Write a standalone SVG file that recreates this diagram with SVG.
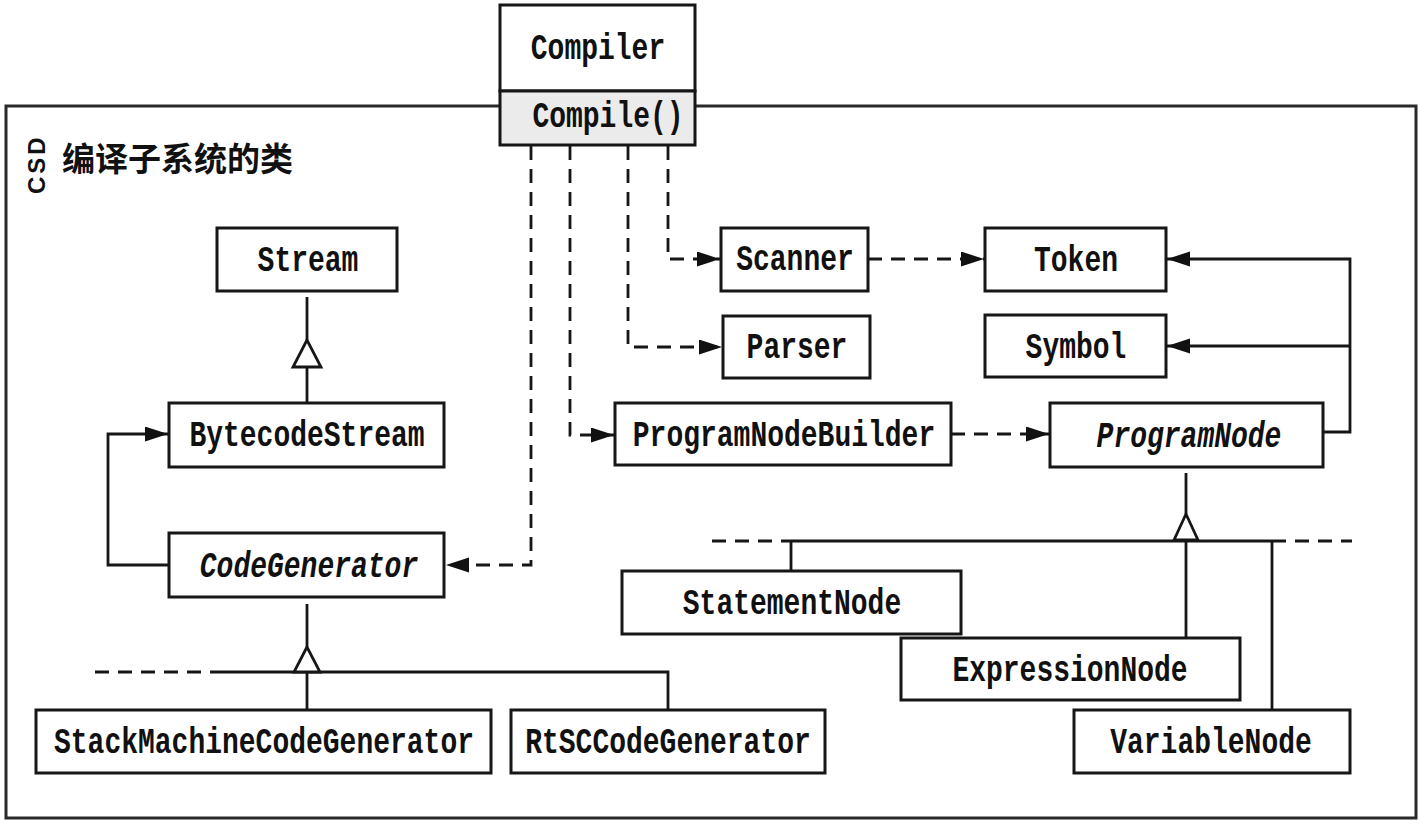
<svg xmlns="http://www.w3.org/2000/svg" width="1420" height="824" viewBox="0 0 1420 824">
<style>
.box{fill:#fff;stroke:#161616;stroke-width:3}
.t{font-family:"Liberation Mono","DejaVu Sans Mono",monospace;font-size:28px;font-weight:bold;fill:#111;text-anchor:middle}
.it{font-style:italic}
.ln{fill:none;stroke:#161616;stroke-width:2.8}
.dash{fill:none;stroke:#161616;stroke-width:2.8;stroke-dasharray:14 9}
.arr{marker-end:url(#head)}
.tri{fill:#fff;stroke:#161616;stroke-width:2.8;stroke-linejoin:miter}
.frame{fill:none;stroke:#2a2a2a;stroke-width:3}
.cn{font-family:"Liberation Sans","Noto Sans CJK SC",sans-serif;font-size:33px;font-weight:bold;fill:#111}
</style>
<defs>
<marker id="head" markerUnits="userSpaceOnUse" markerWidth="26" markerHeight="18" refX="23" refY="7.5" orient="auto">
<path d="M0,0 L23,7.5 L0,15 z" fill="#111" stroke="none"/>
</marker>
</defs>
<rect width="1420" height="824" fill="#fff"/>
<g id="frame">
<path class="frame" d="M500,106 H6 V818 H1416 V106 H695"/>
<text transform="translate(45,194) rotate(-90)" font-family="Liberation Sans,sans-serif" font-size="24" font-weight="bold" letter-spacing="3" fill="#111">CSD</text>
<text class="cn" x="62" y="171">编译子系统的类</text>
</g>
<g id="connectors">
<polyline class="dash arr" points="668,146 668,259 720,259"/>
<polyline class="dash arr" points="628,146 628,347 722,347"/>
<polyline class="dash arr" points="570,146 570,435 614,435"/>
<polyline class="dash arr" points="531,146 531,565 446,565"/>
<polyline class="dash arr" points="868,259 984,259"/>
<polyline class="dash arr" points="951,434 1049,434"/>
<polyline class="ln arr" points="1323,432 1350,432 1350,259 1167,259"/>
<polyline class="ln arr" points="1350,346 1167,346"/>
<polyline class="ln arr" points="168,565 108,565 108,434 168,434"/>
<line class="ln" x1="307" y1="297" x2="307" y2="340"/>
<line class="ln" x1="307" y1="367" x2="307" y2="404"/>
<polygon class="tri" points="307,340 293,367 321,367"/>
<line class="ln" x1="307" y1="604" x2="307" y2="647"/>
<line class="dash" x1="95" y1="672" x2="220" y2="672"/>
<polyline class="ln" points="220,672 668,672 668,710"/>
<line class="ln" x1="307" y1="672" x2="307" y2="710"/>
<polygon class="tri" points="307,647 294,672 320,672"/>
<line class="ln" x1="1186" y1="473" x2="1186" y2="514"/>
<line class="dash" x1="712" y1="541" x2="785" y2="541"/>
<line class="ln" x1="785" y1="541" x2="1272" y2="541"/>
<line class="dash" x1="1272" y1="541" x2="1352" y2="541"/>
<line class="ln" x1="791" y1="541" x2="791" y2="571"/>
<line class="ln" x1="1186" y1="541" x2="1186" y2="638"/>
<line class="ln" x1="1272" y1="541" x2="1272" y2="710"/>
<polygon class="tri" points="1186,514 1174,540 1198,540"/>
</g>
<g id="compiler">
<rect class="box" x="500" y="5" width="195" height="86"/>
<rect class="box" x="500" y="91" width="195" height="54" style="fill:#ebebeb"/>
<text class="t" transform="translate(598,59) scale(1,1.3)">Compiler</text>
<text class="t" transform="translate(608,127) scale(1,1.3)">Compile()</text>
</g>
<g id="scanner"><rect class="box" x="721" y="228" width="147" height="63"/><text class="t" transform="translate(795,270) scale(1,1.3)">Scanner</text></g>
<g id="parser"><rect class="box" x="723" y="316" width="147" height="62"/><text class="t" transform="translate(797,358) scale(1,1.3)">Parser</text></g>
<g id="programnodebuilder"><rect class="box" x="615" y="403" width="336" height="62"/><text class="t" transform="translate(784,446) scale(1,1.3)">ProgramNodeBuilder</text></g>
<g id="token"><rect class="box" x="985" y="228" width="181" height="63"/><text class="t" transform="translate(1076,271) scale(1,1.3)">Token</text></g>
<g id="symbol"><rect class="box" x="985" y="315" width="181" height="62"/><text class="t" transform="translate(1076,358) scale(1,1.3)">Symbol</text></g>
<g id="programnode"><rect class="box" x="1050" y="403" width="273" height="64"/><text class="t it" transform="translate(1189,447) scale(1,1.3)">ProgramNode</text></g>
<g id="statementnode"><rect class="box" x="622" y="571" width="339" height="63"/><text class="t" transform="translate(792,614) scale(1,1.3)">StatementNode</text></g>
<g id="expressionnode"><rect class="box" x="901" y="638" width="339" height="62"/><text class="t" transform="translate(1070,681) scale(1,1.3)">ExpressionNode</text></g>
<g id="variablenode"><rect class="box" x="1074" y="710" width="276" height="63"/><text class="t" transform="translate(1211,753) scale(1,1.3)">VariableNode</text></g>
<g id="stream"><rect class="box" x="217" y="228" width="180" height="63"/><text class="t" transform="translate(308,271) scale(1,1.3)">Stream</text></g>
<g id="bytecodestream"><rect class="box" x="169" y="403" width="275" height="64"/><text class="t" transform="translate(307,446) scale(1,1.3)">BytecodeStream</text></g>
<g id="codegenerator"><rect class="box" x="169" y="533" width="275" height="64"/><text class="t it" transform="translate(309,577) scale(1,1.3)">CodeGenerator</text></g>
<g id="stackmachinecodegenerator"><rect class="box" x="36" y="710" width="455" height="63"/><text class="t" transform="translate(264,753) scale(1,1.3)">StackMachineCodeGenerator</text></g>
<g id="rtsccodegenerator"><rect class="box" x="511" y="710" width="314" height="63"/><text class="t" transform="translate(668,753) scale(1,1.3)">RtSCCodeGenerator</text></g>
</svg>
